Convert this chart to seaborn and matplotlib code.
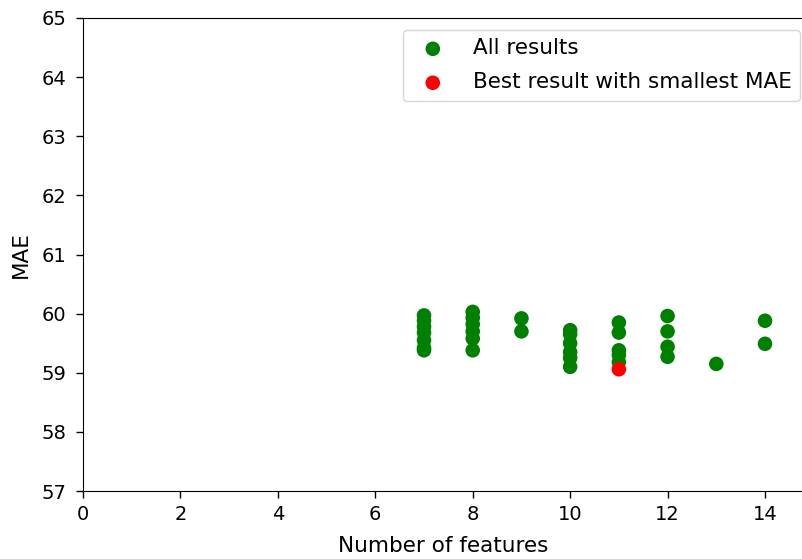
import matplotlib
matplotlib.use("Agg")
import matplotlib.pyplot as plt
import seaborn as sns
import pandas as pd

# Number of selected features for each run and its MAE
n_features = [7, 7, 7, 7, 7, 7, 7,
              8, 8, 8, 8, 8, 8,
              9, 9,
              10, 10, 10, 10, 10, 10,
              11, 11, 11, 11, 11,
              12, 12, 12, 12,
              13,
              14, 14]
mae = [59.97, 59.88, 59.78, 59.68, 59.55, 59.42, 59.38,
       60.03, 59.93, 59.82, 59.70, 59.58, 59.38,
       59.92, 59.70,
       59.72, 59.65, 59.50, 59.35, 59.25, 59.10,
       59.85, 59.68, 59.38, 59.30, 59.18,
       59.96, 59.70, 59.44, 59.27,
       59.15,
       59.88, 59.49]

# Best run (smallest MAE)
best_features = [11]
best_mae = [59.06]

df_all = pd.DataFrame({"features": n_features, "mae": mae})
df_best = pd.DataFrame({"features": best_features, "mae": best_mae})

fig = plt.figure(figsize=(8.03, 5.59), dpi=100)
ax = fig.add_axes([0.1034, 0.1216, 0.8966, 0.8462])

sns.scatterplot(data=df_all, x="features", y="mae", color="green", s=110,
                edgecolor="none", label="All results", ax=ax)
sns.scatterplot(data=df_best, x="features", y="mae", color="red", s=110,
                edgecolor="none", label="Best result with smallest MAE", ax=ax)

ax.set_xlim(0, 14.78)
ax.set_ylim(57, 65)
ax.set_xticks([0, 2, 4, 6, 8, 10, 12, 14])
ax.set_yticks(range(57, 66))
ax.tick_params(labelsize=14, length=5, width=1)
ax.tick_params(axis="x", pad=5)
ax.tick_params(axis="y", pad=7)
ax.set_xlabel("Number of features", fontsize=15.5, labelpad=9)
ax.set_ylabel("MAE", fontsize=15.5, labelpad=7.5)
ax.spines["right"].set_visible(False)

ax.legend(loc="upper right", fontsize=15.5, borderpad=0.4, labelspacing=0.65,
          handletextpad=0.85, borderaxespad=0,
          bbox_to_anchor=(0.996, 0.975))

fig.savefig("out.png", dpi=100)
